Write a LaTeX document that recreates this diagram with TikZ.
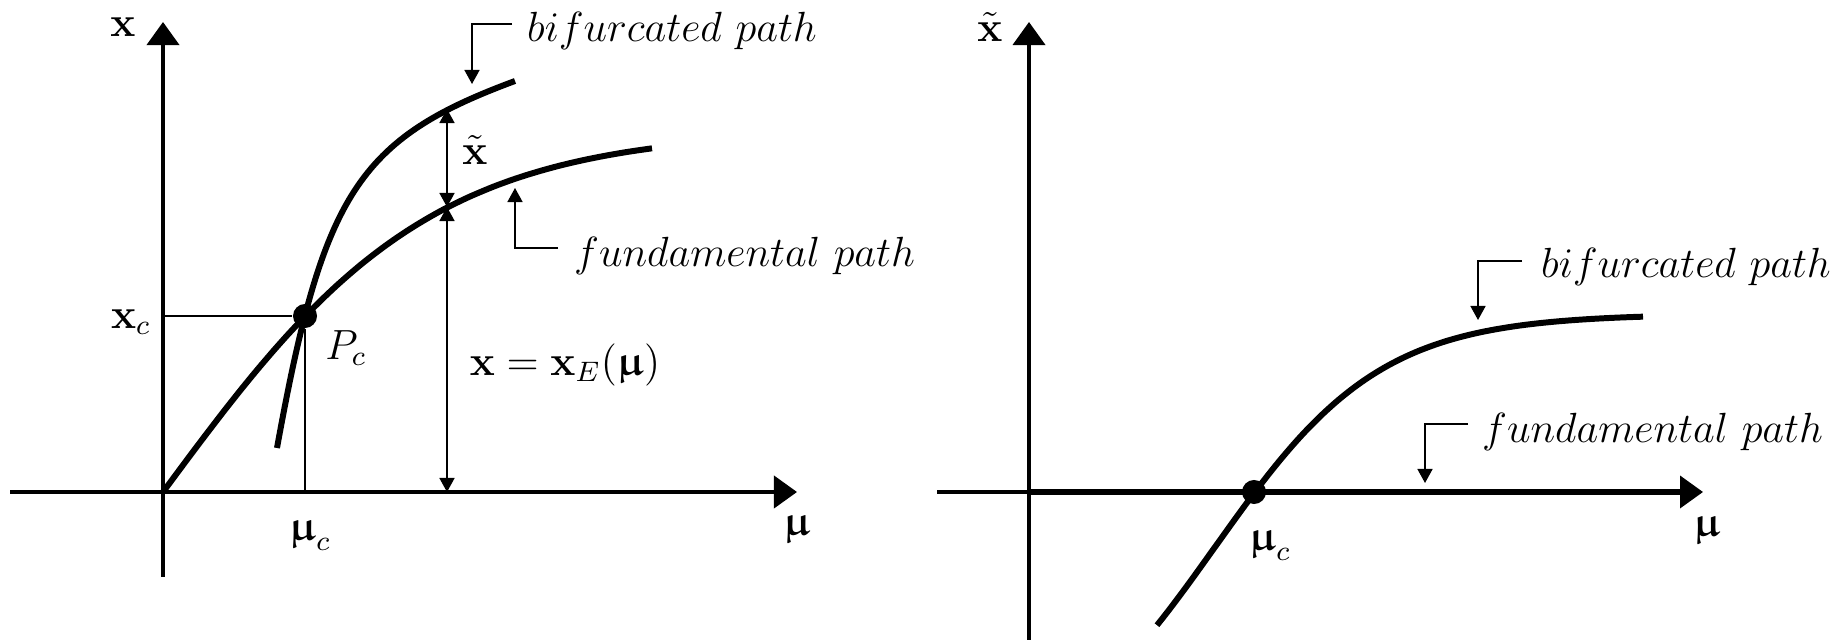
\documentclass[tikz,border=0pt]{standalone}
\usepackage{amsmath}
\usepackage{amssymb}
\usepackage{upgreek}
\usepackage{tikz}
\usetikzlibrary{calc}
\usetikzlibrary{arrows.meta}
\newcommand{\bmu}{\boldsymbol{\upmu}}

\begin{document}
\begin{tikzpicture}[x=0.01cm, y=-0.01cm,
  axis/.style={line width=1.1pt, -{Triangle[width=0.32cm,length=0.23cm]}},
  branch/.style={line width=1.7pt},
  thinline/.style={line width=0.4pt},
  leader/.style={line width=0.45pt, -{Triangle[width=0.15cm,length=0.14cm]}},
  dimline/.style={line width=0.45pt, {Triangle[width=0.15cm,length=0.14cm]}-{Triangle[width=0.15cm,length=0.14cm]}},
  dot/.style={circle, fill, inner sep=0, minimum size=0.24cm},
  lbl/.style={font=\large, inner sep=1pt}]
\useasboundingbox (0,0) rectangle (1836,640);
% left picture
\coordinate (O1) at (163,492);
\draw[axis] (10,492) -- (797,492);
\draw[axis] (163,577) -- (163,22);
\draw[branch, samples=80, domain=0:489, smooth, variable=\u] plot ({163+\u},{492-362*tanh(\u/268)});
\draw[branch] (277,448) .. controls (323,194) and (358,139) .. (515,81);
\node[dot] (Pc) at (305,316) {};
\draw[thinline] (O1 |- Pc) -- (Pc) -- (Pc |- O1);
\coordinate (dA) at (447,109);
\coordinate (dB) at (447,207);
\coordinate (dC) at (447,492);
\draw[dimline] (dA) -- (dB);
\draw[dimline] (dB) -- (dC);
\coordinate (lb1) at (512,24);
\coordinate (lb2) at (472,84);
\draw[leader] (lb1) -| (lb2);
\coordinate (lf1) at (558,248);
\coordinate (lf2) at (515,188);
\draw[leader] (lf1) -| (lf2);
\node[lbl] (xlab) at (123,27) {$\mathbf{x}$};
\node[lbl, anchor=east] (xclab) at (155,322) {$\mathbf{x}_c$};
\node[lbl] (muclab) at (310,535) {$\bmu_c$};
\node[lbl] (pclab) at (346,348) {$P_c$};
\node[lbl] (xtlab) at (475,150) {$\tilde{\mathbf{x}}$};
\node[lbl] (xelab) at (565,365) {$\mathbf{x}=\mathbf{x}_E(\bmu)$};
\node[lbl] (mulab) at (797,529) {$\bmu$};
\node[lbl, anchor=base west] (bifl) at (523,42) {$bifurcated\ path$};
\node[lbl, anchor=base west] (fundl) at (570,267) {$fundamental\ path$};
% right picture
\coordinate (O2) at (1029,492);
\draw[axis] (937,492) -- (1703,492);
\draw[axis] (1029,640) -- (1029,22);
\draw[branch] (O2) -- (1685,492);
\draw[branch, samples=80, domain=1157:1643, smooth, variable=\u] plot ({\u},{547-233*tanh((\u-1215)/166)});
\node[dot] (Mc) at (1254,492) {};
\coordinate (rb1) at (1522,261);
\coordinate (rb2) at (1478,320);
\draw[leader] (rb1) -| (rb2);
\coordinate (rf1) at (1468,424);
\coordinate (rf2) at (1425,483);
\draw[leader] (rf1) -| (rf2);
\node[lbl] (xtrlab) at (990,27) {$\tilde{\mathbf{x}}$};
\node[lbl] (mucrlab) at (1270,545) {$\bmu_c$};
\node[lbl] (murlab) at (1707,530) {$\bmu$};
\node[lbl, anchor=base west] (bifr) at (1537,278) {$bifurcated\ path$};
\node[lbl, anchor=base west] (fundr) at (1478,443) {$fundamental\ path$};
\end{tikzpicture}
\end{document}
